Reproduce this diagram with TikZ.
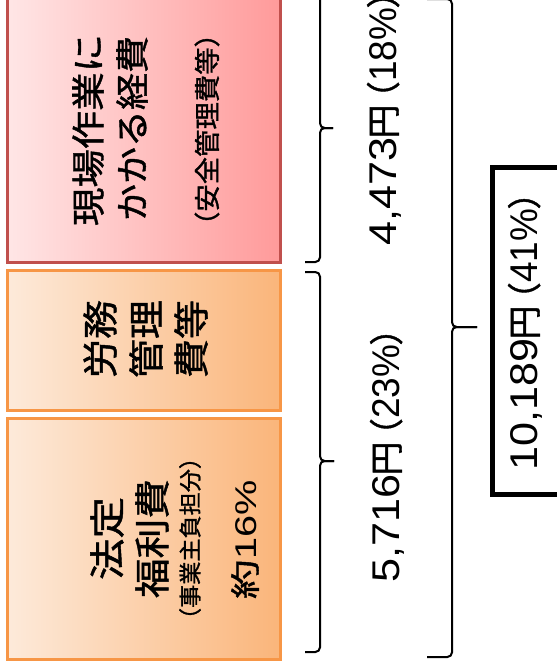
\documentclass[tikz,border=0pt]{standalone}
\usepackage{fontspec}
\usepackage{graphicx}
\setmainfont{Liberation Sans}
\newfontfamily\jp[FakeBold=1.2]{Noto Sans CJK JP}
\usetikzlibrary{fit}
\definecolor{boxred}{HTML}{C0504D}
\definecolor{pinkL}{HTML}{FFE6E6}
\definecolor{pinkR}{HTML}{FF9A9A}
\definecolor{boxorange}{HTML}{F79646}
\definecolor{orL}{HTML}{FDEADA}
\definecolor{orR}{HTML}{FAB57A}
\newlength\fitlen
\newcommand\fitw[2]{\settowidth\fitlen{#2}\pgfmathsetmacro\fitr{#1*0.75/\fitlen}\scalebox{\fitr}[1]{#2}}
\newcommand\jk[1]{{\fontsize{25.5}{30}\selectfont\jp #1}}
% amount label: digits (target px), digits, percent part
\newcommand\amount[3]{\fitw{#1}{#2}\kern-0.5pt\jk{円}\kern-8pt\jk{（}\kern-0.5pt\fitw{74}{#3}\kern-0.5pt\jk{）}\kern-14pt}
\begin{document}
\begin{tikzpicture}[x=0.75pt,y=-0.75pt,
  pinkbox/.style={draw=boxred, line width=2.25pt, left color=pinkL, right color=pinkR, inner sep=0pt},
  orbox/.style={draw=boxorange, line width=2.25pt, left color=orL, right color=orR, inner sep=0pt},
  txt/.style={rotate=90, inner sep=0pt, text=black},
  big/.style={txt, font=\fontsize{27}{30}\selectfont\jp},
  lbl/.style={txt, font=\fontsize{29}{32}\selectfont},
  brc/.style={line width=1.5pt, rounded corners=3.5pt},
  ]
\useasboundingbox (0,0) rectangle (557,668);
% boxes
\node[pinkbox, fit={(7.3,-6) (280.7,262)}] (b1) {};
\node[orbox, fit={(7.3,270.7) (280.7,410)}] (b2) {};
\node[orbox, fit={(7.3,418.3) (280.7,659)}] (b3) {};
% box 1 text
\node[txt, font=\fontsize{25.5}{30}\selectfont\jp] (t1a) at (88,130) {\fitw{192}{現場作業に}};
\node[txt, font=\fontsize{25.5}{30}\selectfont\jp] (t1b) at (132,128.5) {\fitw{185}{かかる経費}};
\node[txt, font=\fontsize{19.5}{24}\selectfont\jp] (t1c) at (207,129.5) {\fitw{219}{（安全管理費等）}};
% box 2 text
\node[big] (t2a) at (100,339) {\fitw{78}{労務}};
\node[big] (t2b) at (146,339) {\fitw{78}{管理}};
\node[big] (t2c) at (191,339) {\fitw{78}{費等}};
% box 3 text
\node[big] (t3a) at (107,538.5) {\fitw{83}{法定}};
\node[big] (t3b) at (152,538.5) {\fitw{119}{福利費}};
\node[txt, font=\fontsize{17}{20}\selectfont\jp] (t3c) at (190,538.5) {\fitw{185}{（事業主負担分）}};
\node[txt, font=\fontsize{22.5}{26}\selectfont] (t3d) at (245,539.5) {\fitw{119}{{\jp 約}16\%}};
% braces
\draw[brc] (305,-8) -- (320,-8) -- (320,128) -- (333,128);
\draw[brc] (333,128) -- (320,128) -- (320,262) -- (305,262);
\draw[brc] (305,272) -- (320,272) -- (320,461) -- (334,461);
\draw[brc] (334,461) -- (320,461) -- (320,652) -- (305,652);
\draw[brc] (427,-1) -- (452,-1) -- (452,327) -- (477,327);
\draw[brc] (477,327) -- (452,327) -- (452,657) -- (427,657);
% labels
\node[lbl] (l1) at (384,119.5) {\amount{108}{4,473}{18\%}};
\node[lbl] (l2) at (387,456.5) {\amount{108}{5,716}{23\%}};
\node[draw, line width=3.75pt, inner sep=0pt, fit={(492,167.5) (640,494)}] (tot) {};
\node[lbl] (l3) at (525,332.5) {\amount{132}{10,189}{41\%}};
\end{tikzpicture}
\end{document}
